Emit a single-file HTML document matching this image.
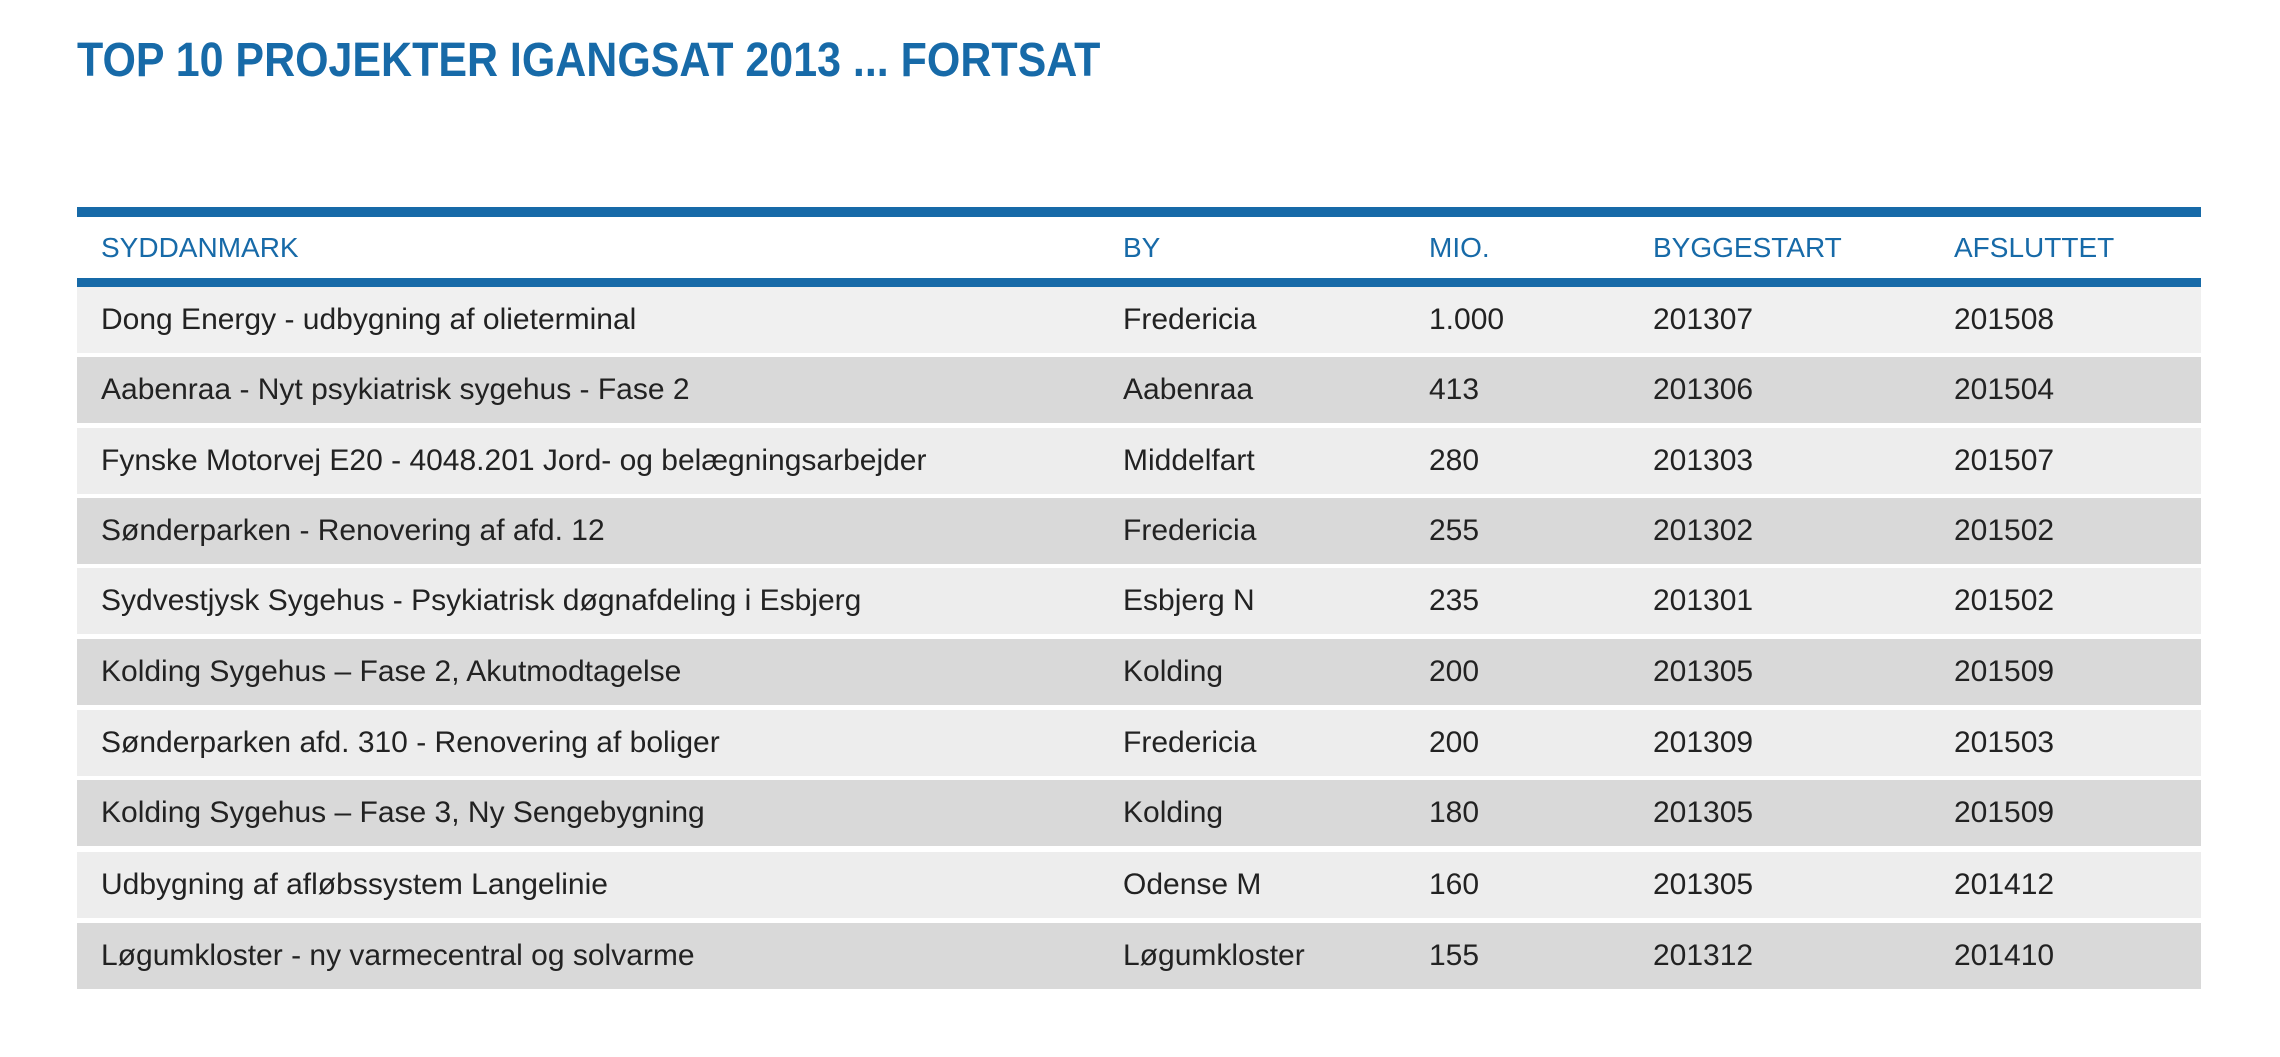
<!DOCTYPE html>
<html><head><meta charset="utf-8"><style>
html,body{margin:0;padding:0;background:#fff;width:2280px;height:1057px;overflow:hidden;font-family:"Liberation Sans",sans-serif;}
.title{position:absolute;left:77px;top:34px;font-size:48px;font-weight:bold;color:#176aa8;white-space:nowrap;transform:scaleX(0.895);transform-origin:left top;line-height:54px;}
.bar{position:absolute;left:77px;width:2124px;background:#176aa8;}
.row{position:absolute;left:77px;width:2124px;height:66px;}
.c{position:absolute;top:0;line-height:66px;font-size:30px;color:#222;white-space:nowrap;}
.h .c{color:#176aa8;font-size:28px;line-height:61px;}
.c1{left:24px}.c2{left:1046px}.c3{left:1352px}.c4{left:1576px}.c5{left:1877px}
.a{background:#f0f0f0}.b{background:#d9d9d9}
</style></head><body>
<div class="title">TOP 10 PROJEKTER IGANGSAT 2013 ... FORTSAT</div>
<div class="bar" style="top:207px;height:10px"></div>
<div class="row h" style="top:217px;height:61px"><span class="c c1">SYDDANMARK</span><span class="c c2">BY</span><span class="c c3">MIO.</span><span class="c c4">BYGGESTART</span><span class="c c5">AFSLUTTET</span></div>
<div class="bar" style="top:278px;height:9px"></div>
<div class="row a" style="top:287px"><span class="c c1">Dong Energy - udbygning af olieterminal</span><span class="c c2">Fredericia</span><span class="c c3">1.000</span><span class="c c4">201307</span><span class="c c5">201508</span></div>
<div class="row b" style="top:357px"><span class="c c1">Aabenraa - Nyt psykiatrisk sygehus - Fase 2</span><span class="c c2">Aabenraa</span><span class="c c3">413</span><span class="c c4">201306</span><span class="c c5">201504</span></div>
<div class="row a" style="top:428px;background:#ededed"><span class="c c1">Fynske Motorvej E20 - 4048.201 Jord- og belægningsarbejder</span><span class="c c2">Middelfart</span><span class="c c3">280</span><span class="c c4">201303</span><span class="c c5">201507</span></div>
<div class="row b" style="top:498px"><span class="c c1">Sønderparken - Renovering af afd. 12</span><span class="c c2">Fredericia</span><span class="c c3">255</span><span class="c c4">201302</span><span class="c c5">201502</span></div>
<div class="row a" style="top:568px;background:#ededed"><span class="c c1">Sydvestjysk Sygehus - Psykiatrisk døgnafdeling i Esbjerg</span><span class="c c2">Esbjerg N</span><span class="c c3">235</span><span class="c c4">201301</span><span class="c c5">201502</span></div>
<div class="row b" style="top:639px"><span class="c c1">Kolding Sygehus – Fase 2, Akutmodtagelse</span><span class="c c2">Kolding</span><span class="c c3">200</span><span class="c c4">201305</span><span class="c c5">201509</span></div>
<div class="row a" style="top:710px;background:#ededed"><span class="c c1">Sønderparken afd. 310 - Renovering af boliger</span><span class="c c2">Fredericia</span><span class="c c3">200</span><span class="c c4">201309</span><span class="c c5">201503</span></div>
<div class="row b" style="top:780px"><span class="c c1">Kolding Sygehus – Fase 3, Ny Sengebygning</span><span class="c c2">Kolding</span><span class="c c3">180</span><span class="c c4">201305</span><span class="c c5">201509</span></div>
<div class="row a" style="top:852px;background:#ededed"><span class="c c1">Udbygning af afløbssystem Langelinie</span><span class="c c2">Odense M</span><span class="c c3">160</span><span class="c c4">201305</span><span class="c c5">201412</span></div>
<div class="row b" style="top:923px"><span class="c c1">Løgumkloster - ny varmecentral og solvarme</span><span class="c c2">Løgumkloster</span><span class="c c3">155</span><span class="c c4">201312</span><span class="c c5">201410</span></div>
</body></html>
